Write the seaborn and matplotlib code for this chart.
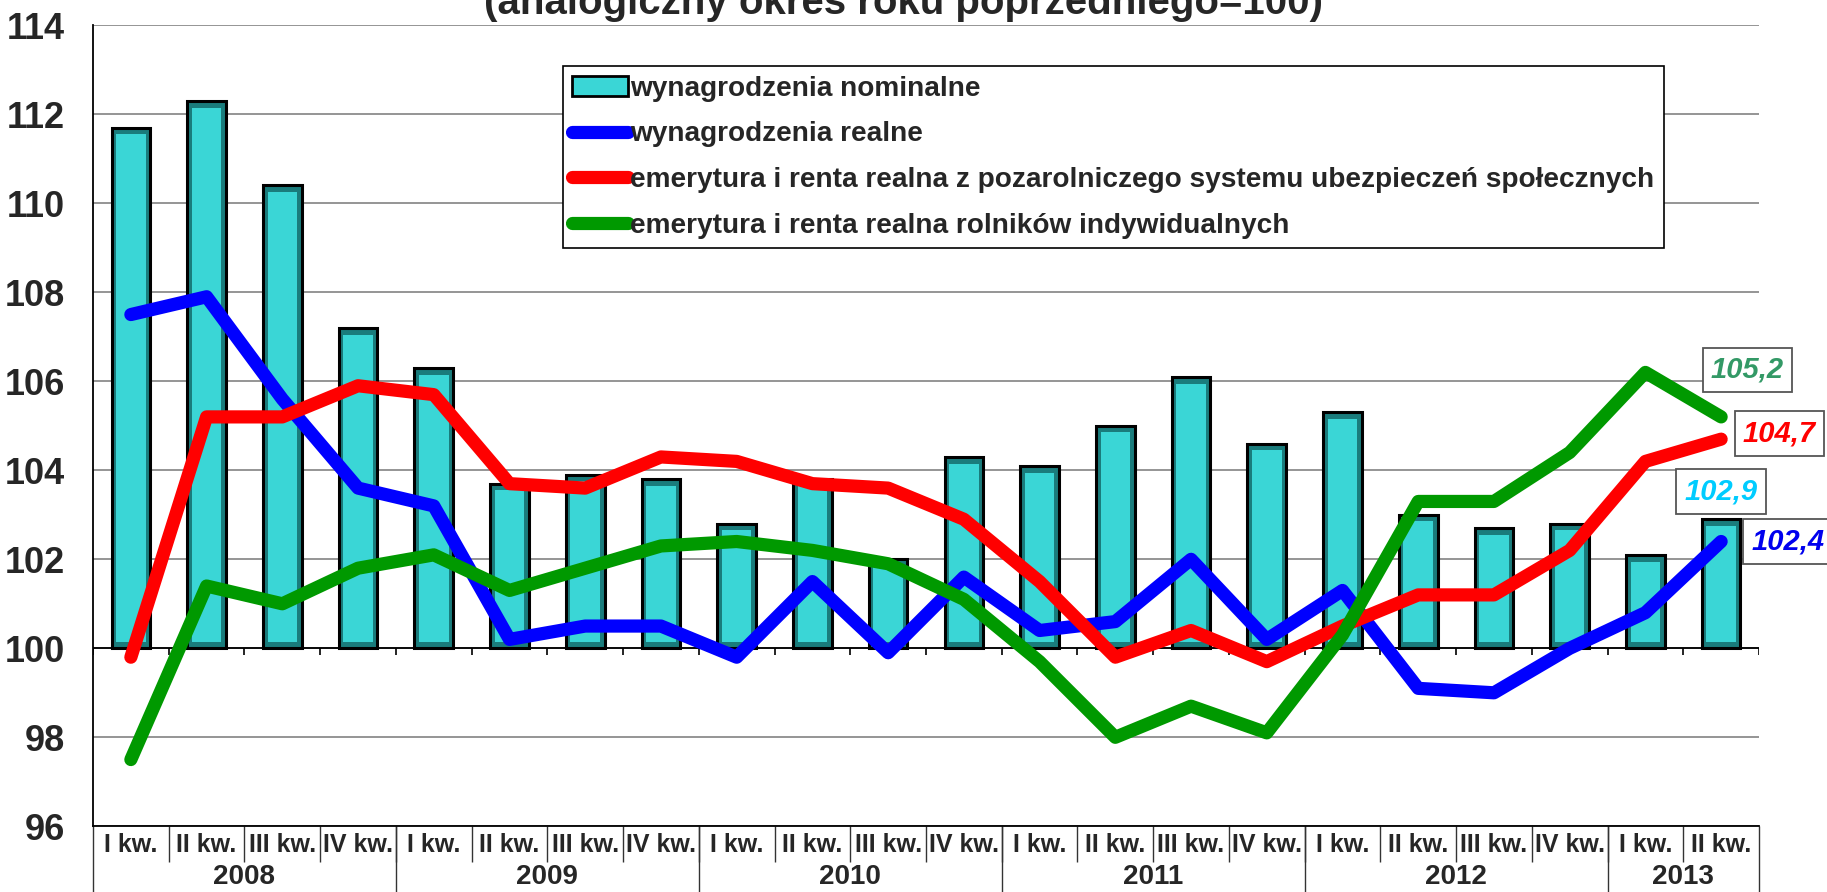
import pandas as pd
import matplotlib
matplotlib.use('Agg')
import matplotlib.pyplot as plt
import matplotlib.transforms as mtransforms
from matplotlib.patches import Patch
from matplotlib.lines import Line2D
import seaborn as sns

# ---- data (index, same quarter of previous year = 100) ----
quarters = ['I kw.', 'II kw.', 'III kw.', 'IV kw.'] * 5 + ['I kw.', 'II kw.']
years = ['2008', '2009', '2010', '2011', '2012', '2013']
year_sizes = [4, 4, 4, 4, 4, 2]

nominal = [111.7, 112.3, 110.4, 107.2, 106.3, 103.7, 103.9, 103.8, 102.8, 103.8, 102.0,
           104.3, 104.1, 105.0, 106.1, 104.6, 105.3, 103.0, 102.7, 102.8, 102.1, 102.9]
real = [107.5, 107.9, 105.6, 103.6, 103.2, 100.2, 100.5, 100.5, 99.8, 101.5, 99.9,
        101.6, 100.4, 100.6, 102.0, 100.2, 101.3, 99.1, 99.0, 100.0, 100.8, 102.4]
pension = [99.8, 105.2, 105.2, 105.9, 105.7, 103.7, 103.6, 104.3, 104.2, 103.7, 103.6,
           102.9, 101.5, 99.8, 100.4, 99.7, 100.5, 101.2, 101.2, 102.2, 104.2, 104.7]
farmers = [97.5, 101.4, 101.0, 101.8, 102.1, 101.3, 101.8, 102.3, 102.4, 102.2, 101.9,
           101.1, 99.7, 98.0, 98.7, 98.1, 100.3, 103.3, 103.3, 104.4, 106.2, 105.2]

labels = ['wynagrodzenia nominalne',
          'wynagrodzenia realne',
          'emerytura i renta realna z pozarolniczego systemu ubezpieczeń społecznych',
          'emerytura i renta realna rolników indywidualnych']

df = pd.DataFrame({'pos': range(len(quarters)), 'nominal': nominal, 'real': real,
                   'pension': pension, 'farmers': farmers})

teal = '#3AD6D6'
teal_dark = '#1A7C7C'
c_real, c_pension, c_farm = '#0000FF', '#FF0000', '#009900'

sns.set_style('white')
plt.rcParams['font.family'] = ['Liberation Sans', 'DejaVu Sans']
plt.rcParams['font.weight'] = 'bold'

W, H = 1827, 892
fig = plt.figure(figsize=(W / 100, H / 100), dpi=100)
ax = fig.add_axes([93 / W, 1 - 826.3 / H, (1759 - 93) / W, 801 / H])

# ---- bars (start from 100), dark rim + lighter core for the bevel look ----
sns.barplot(data=df, x='pos', y='nominal', native_scale=True, color=teal_dark, saturation=1,
            width=0.51, edgecolor='black', linewidth=2.2, ax=ax, zorder=2)
n_outer = len(ax.patches)
sns.barplot(data=df, x='pos', y='nominal', native_scale=True, color=teal, saturation=1,
            width=0.39, linewidth=0, ax=ax, zorder=2.1)
for k, p in enumerate(ax.patches):
    h = p.get_height()
    if k < n_outer:
        p.set_y(100)
        p.set_height(h - 100)
    else:
        p.set_y(100.15)
        p.set_height(h - 100 - 0.3)

# ---- lines ----
for col, c in [('real', c_real), ('pension', c_pension), ('farmers', c_farm)]:
    sns.lineplot(data=df, x='pos', y=col, color=c, lw=9.5, ax=ax, zorder=3,
                 solid_capstyle='round', solid_joinstyle='round')

ax.set_xlim(-0.5, len(quarters) - 0.5)
ax.set_ylim(96, 114)
ax.set_yticks(range(96, 115, 2))
ax.yaxis.grid(True, color='#8c8c8c', lw=1.3, zorder=0)
ax.set_axisbelow(True)
ax.axhline(100, color='black', lw=1.3, zorder=1)
ax.vlines([i - 0.5 for i in range(len(quarters) + 1)], 99.86, 100, color='black', lw=1.2)
ax.tick_params(axis='y', labelsize=26, length=7, width=1.2, color='black', pad=13)
ax.set_xticks([])
ax.set_xlabel('')
ax.set_ylabel('')
for s in ['top', 'right']:
    ax.spines[s].set_visible(False)
for s in ['left', 'bottom']:
    ax.spines[s].set_color('black')
    ax.spines[s].set_linewidth(1.3)

# ---- category table under the axis ----
tr = mtransforms.blended_transform_factory(ax.transData, ax.transAxes)
y_q = (826.3 - 845) / 801
y_y = (826.3 - 877) / 801
y_qsep = (826.3 - 862) / 801
y_ysep = (826.3 - 892) / 801
for i, q in enumerate(quarters):
    ax.text(i, y_q, q, transform=tr, ha='center', va='center', fontsize=18, weight='bold')
ax.vlines([i - 0.5 for i in range(1, len(quarters))], y_qsep, 0, transform=tr,
          color='#333333', lw=1, clip_on=False)
start = 0
bounds = [-0.5]
for yr, n in zip(years, year_sizes):
    ax.text(start + (n - 1) / 2, y_y, yr, transform=tr, ha='center', va='center',
            fontsize=20, weight='bold')
    start += n
    bounds.append(start - 0.5)
ax.vlines(bounds, y_ysep, 0, transform=tr, color='#333333', lw=1, clip_on=False)

# ---- value labels for the last quarter ----
last = len(quarters) - 1
box = dict(boxstyle='square,pad=0.28', fc='white', ec='#555555', lw=1.3)
for val, col, dx, dy in [(farmers[-1], '#339966', 19, 34),
                         (pension[-1], c_pension, 42, 4),
                         (nominal[-1], '#00CCFF', 0, 20),
                         (real[-1], '#0000EE', 48, 0)]:
    ax.annotate(f'{val:.1f}'.replace('.', ','), xy=(last, val), xytext=(dx, dy),
                textcoords='offset points', ha='center', va='center', fontsize=21,
                weight='bold', style='italic', color=col, bbox=box, zorder=5,
                annotation_clip=False)

# ---- legend ----
handles = [Patch(facecolor=teal, edgecolor='black', lw=2),
           Line2D([], [], color=c_real, lw=9.5, solid_capstyle='round'),
           Line2D([], [], color=c_pension, lw=9.5, solid_capstyle='round'),
           Line2D([], [], color=c_farm, lw=9.5, solid_capstyle='round')]
leg = ax.legend(handles, labels, loc='upper left', bbox_to_anchor=(0.282, 0.949),
                fontsize=20.2, frameon=True, fancybox=False, framealpha=1, edgecolor='black',
                handlelength=2.0, handletextpad=0.05, labelspacing=0.7, borderpad=0.34,
                borderaxespad=0)
leg.get_frame().set_linewidth(1.2)
leg.set_zorder(6)

fig.text(903 / W, 1 - 14 / H, '(analogiczny okres roku poprzedniego=100)', ha='center',
         va='baseline', fontsize=29, weight='bold')

fig.savefig('out.png', dpi=100)
